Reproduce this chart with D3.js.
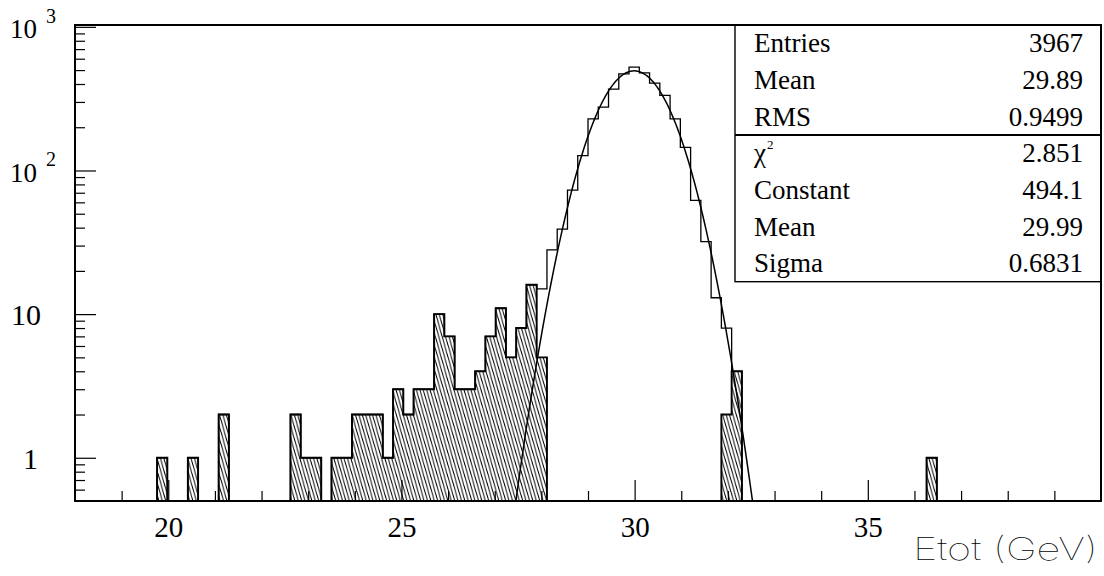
<!DOCTYPE html>
<html>
<head>
<meta charset="utf-8">
<script src="https://cdn.jsdelivr.net/npm/d3@7"></script>
<style>
    body { margin: 0; background: #fff; }
    svg { display: block; }
</style>
</head>
<body>
<div id="chart"></div>
<script>
const binLow = 18;
const binHigh = 40;
const binCount = 100;

// all entries per 0.22 GeV bin
const allCounts = [
    0, 0, 0, 0, 0, 0, 0, 0, 1, 0,
    0, 1, 0, 0, 2, 0, 0, 0, 0, 0,
    0, 2, 1, 1, 0, 1, 1, 2, 2, 2,
    1, 3, 2, 3, 3, 10, 7, 3, 3, 4,
    7, 11, 5, 8, 16, 15, 28, 39, 73, 127,
    229, 276, 369, 471, 524, 478, 406, 333, 229, 145,
    62, 32, 13, 8, 4, 0, 0, 0, 0, 0,
    0, 0, 0, 0, 0, 0, 0, 0, 0, 0,
    0, 0, 0, 1, 0, 0, 0, 0, 0, 0,
    0, 0, 0, 0, 0, 0, 0, 0, 0, 0
];

// hatched part (tails)
const tailCounts = [
    0, 0, 0, 0, 0, 0, 0, 0, 1, 0,
    0, 1, 0, 0, 2, 0, 0, 0, 0, 0,
    0, 2, 1, 1, 0, 1, 1, 2, 2, 2,
    1, 3, 2, 3, 3, 10, 7, 3, 3, 4,
    7, 11, 5, 8, 16, 5, 0, 0, 0, 0,
    0, 0, 0, 0, 0, 0, 0, 0, 0, 0,
    0, 0, 0, 2, 4, 0, 0, 0, 0, 0,
    0, 0, 0, 0, 0, 0, 0, 0, 0, 0,
    0, 0, 0, 1, 0, 0, 0, 0, 0, 0,
    0, 0, 0, 0, 0, 0, 0, 0, 0, 0
];

// gaussian fit result
const fitConstant = 494.1;
const fitMean = 29.99;
const fitSigma = 0.6831;

const statLabels = ["Entries", "Mean", "RMS", "χ", "Constant", "Mean", "Sigma"];
const statValues = ["3967", "29.89", "0.9499", "2.851", "494.1", "29.99", "0.6831"];

const xLabelTicks = [20, 25, 30, 35];
const yLabelTicks = [
    {value: 1, base: "1", power: ""},
    {value: 10, base: "10", power: ""},
    {value: 100, base: "10", power: "2"},
    {value: 1000, base: "10", power: "3"}
];
const xTitle = "Etot (GeV)";

const serif = '"Liberation Serif", "Times New Roman", serif';
const plotLeft = 75, plotRight = 1101, plotTop = 25, plotBottom = 501;

const svg = d3.select("#chart").append("svg")
    .attr("width", 1104)
    .attr("height", 576);

const x = d3.scaleLinear().domain([binLow, binHigh]).range([plotLeft, plotRight]);
const y = d3.scaleLog().domain([0.5, 1030]).range([plotBottom, plotTop]);
const binWidth = (binHigh - binLow) / binCount;

initDefs();
drawHist(tailCounts, "url(#hatch)", 1.9);
drawHist(allCounts, "none", 1.3);
drawFit();
drawAxes();
drawFrame();
drawStats();

function initDefs() {
    let defs = svg.append("defs");
    defs.append("clipPath").attr("id", "plot-clip")
        .append("rect")
        .attr("x", plotLeft).attr("y", plotTop)
        .attr("width", plotRight - plotLeft).attr("height", plotBottom - plotTop);

    defs.append("pattern")
        .attr("id", "hatch")
        .attr("patternUnits", "userSpaceOnUse")
        .attr("width", 3.4)
        .attr("height", 12)
        .append("path")
        .attr("d", "M-3.4,0 L0,12 M0,0 L3.4,12 M3.4,0 L6.8,12")
        .attr("stroke", "#000")
        .attr("stroke-width", 1);
}

function histPoints(counts) {
    let pts = [[x(binLow), plotBottom]];
    counts.forEach((c, i) => {
        let yy = c > 0 ? y(c) : plotBottom;
        pts.push([x(binLow + i * binWidth), yy]);
        pts.push([x(binLow + (i + 1) * binWidth), yy]);
    });
    pts.push([x(binHigh), plotBottom]);
    return pts;
}

function drawHist(counts, fill, width) {
    svg.append("path")
        .attr("clip-path", "url(#plot-clip)")
        .attr("d", d3.line()(histPoints(counts)))
        .attr("fill", fill)
        .attr("stroke", "#000")
        .attr("stroke-width", width)
        .attr("stroke-linejoin", "miter");
}

function drawFit() {
    let xs = d3.range(binLow, binHigh + 0.001, 0.02);
    let line = d3.line()
        .x(d => x(d))
        .y(d => {
            let v = fitConstant * Math.exp(-0.5 * Math.pow((d - fitMean) / fitSigma, 2));
            return y(Math.max(v, 0.05));
        });
    svg.append("path")
        .attr("clip-path", "url(#plot-clip)")
        .attr("d", line(xs))
        .attr("fill", "none")
        .attr("stroke", "#000")
        .attr("stroke-width", 1.5);
}

function drawAxes() {
    let xMinor = x.ticks(22).filter(t => t > binLow && t < binHigh && t % 5 !== 0);

    let minorX = svg.append("g")
        .attr("transform", `translate(0,${plotBottom})`)
        .call(d3.axisBottom(x).tickValues(xMinor).tickSize(-10).tickFormat(""));
    let majorX = svg.append("g")
        .attr("transform", `translate(0,${plotBottom})`)
        .call(d3.axisBottom(x).tickValues(xLabelTicks).tickSize(-21).tickPadding(15).tickFormat(d3.format("d")));
    [minorX, majorX].forEach(g => {
        g.select(".domain").remove();
        g.selectAll("line").attr("stroke", "#000").attr("stroke-width", 1.2);
    });
    majorX.selectAll("text")
        .style("font-family", serif)
        .style("font-size", "29px")
        .attr("fill", "#000");

    let yTicks = y.ticks().filter(t => t > 0.5);
    let isMajor = t => Math.abs(Math.log10(t) - Math.round(Math.log10(t))) < 1e-6;

    let minorY = svg.append("g")
        .attr("transform", `translate(${plotLeft},0)`)
        .call(d3.axisLeft(y).tickValues(yTicks.filter(t => !isMajor(t))).tickSize(-10).tickFormat(""));
    let majorY = svg.append("g")
        .attr("transform", `translate(${plotLeft},0)`)
        .call(d3.axisLeft(y).tickValues(yTicks.filter(isMajor)).tickSize(-21).tickFormat(""));
    [minorY, majorY].forEach(g => {
        g.select(".domain").remove();
        g.selectAll("line").attr("stroke", "#000").attr("stroke-width", 1.2);
    });

    // y labels, powers of ten written as 10 + raised exponent
    yLabelTicks.forEach(t => {
        let ty = y(t.value);
        if (t.power === "") {
            svg.append("text")
                .attr("x", t.base.length > 1 ? 41 : 38)
                .attr("y", ty + 11)
                .attr("text-anchor", "end")
                .style("font-family", serif)
                .style("font-size", "30px")
                .text(t.base);
        } else {
            svg.append("text")
                .attr("x", 37)
                .attr("y", ty + 11.5)
                .attr("text-anchor", "end")
                .style("font-family", serif)
                .style("font-size", "27px")
                .text(t.base);
            svg.append("text")
                .attr("x", 46)
                .attr("y", ty - 4)
                .style("font-family", serif)
                .style("font-size", "20px")
                .text(t.power);
        }
    });

    svg.append("text")
        .attr("x", 1098)
        .attr("y", 560)
        .attr("text-anchor", "end")
        .attr("textLength", 185)
        .attr("lengthAdjust", "spacingAndGlyphs")
        .style("font-family", "Inter, Lato, sans-serif")
        .style("font-weight", 100)
        .style("font-size", "31px")
        .text(xTitle);
}

function drawFrame() {
    svg.append("rect")
        .attr("x", plotLeft).attr("y", plotTop)
        .attr("width", plotRight - plotLeft).attr("height", plotBottom - plotTop)
        .attr("fill", "none")
        .attr("stroke", "#000")
        .attr("stroke-width", 2);
}

function drawStats() {
    const boxLeft = 735, boxTop = 25, rowH = 36.67;
    const boxBottom = boxTop + rowH * statLabels.length;

    let g = svg.append("g");
    g.append("rect")
        .attr("x", boxLeft).attr("y", boxTop)
        .attr("width", plotRight - boxLeft).attr("height", boxBottom - boxTop)
        .attr("fill", "#fff")
        .attr("stroke", "#000")
        .attr("stroke-width", 1.4);
    g.append("line")
        .attr("x1", boxLeft).attr("x2", plotRight)
        .attr("y1", boxTop + rowH * 3).attr("y2", boxTop + rowH * 3)
        .attr("stroke", "#000")
        .attr("stroke-width", 2);

    statLabels.forEach((lab, i) => {
        let by = boxTop + rowH * (i + 0.5) + 9;
        let t = g.append("text")
            .attr("x", 754)
            .attr("y", by)
            .style("font-family", serif)
            .style("font-size", "27px")
            .text(lab);
        if (lab === "χ") {
            t.append("tspan")
                .attr("dy", -13)
                .attr("dx", 1)
                .style("font-size", "13px")
                .text("2");
        }
        g.append("text")
            .attr("x", 1083)
            .attr("y", by)
            .attr("text-anchor", "end")
            .style("font-family", serif)
            .style("font-size", "27px")
            .text(statValues[i]);
    });

    // frame top/right over the box edge
    g.append("line")
        .attr("x1", boxLeft).attr("x2", plotRight)
        .attr("y1", plotTop).attr("y2", plotTop)
        .attr("stroke", "#000").attr("stroke-width", 2);
    g.append("line")
        .attr("x1", plotRight).attr("x2", plotRight)
        .attr("y1", plotTop).attr("y2", boxBottom)
        .attr("stroke", "#000").attr("stroke-width", 2);
}
</script>
</body>
</html>
